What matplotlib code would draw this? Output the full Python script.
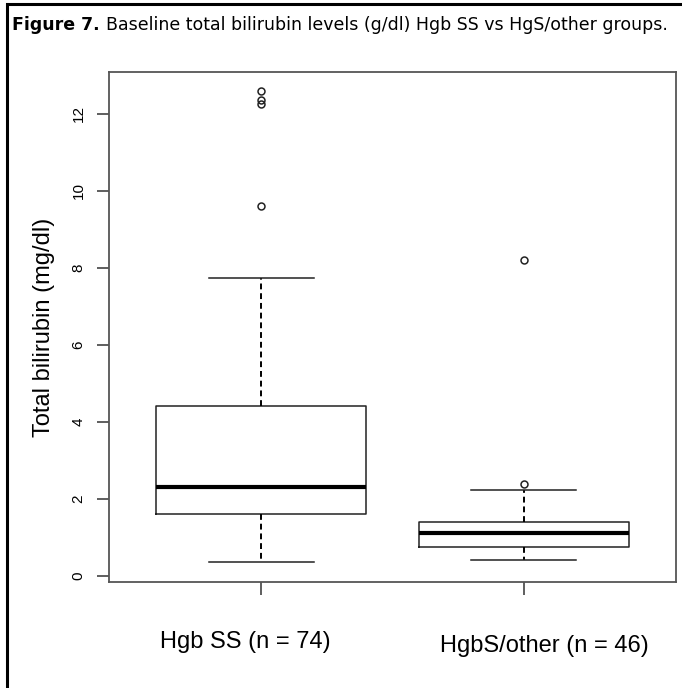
import matplotlib.pyplot as plt
from matplotlib.patches import Rectangle

# boxplot summaries (mg/dl)
groups = ['Hgb SS (n = 74)', 'HgbS/other (n = 46)']
whislo = [0.36, 0.41]
q1 = [1.61, 0.75]
med = [2.32, 1.12]
q3 = [4.40, 1.39]
whishi = [7.73, 2.23]
fliers = [[12.6, 12.35, 12.25, 9.6], [8.2, 2.38]]

stats = []
for i in range(len(groups)):
    stats.append({'whislo': whislo[i], 'q1': q1[i], 'med': med[i], 'q3': q3[i],
                  'whishi': whishi[i], 'fliers': fliers[i], 'label': groups[i]})

fig = plt.figure(figsize=(6.82, 6.88), dpi=100)
ax = fig.add_axes([109 / 682, (688 - 582) / 688, (676 - 109) / 682, (582 - 72) / 688])

ax.bxp(stats, positions=[1, 2], widths=0.8, patch_artist=False,
       boxprops=dict(color='#222222', linewidth=1.1),
       medianprops=dict(color='black', linewidth=3),
       whiskerprops=dict(color='black', linewidth=1.4, linestyle=(0, (3, 2))),
       capprops=dict(color='#222222', linewidth=1.1),
       flierprops=dict(marker='o', markersize=5, markerfacecolor='none',
                       markeredgecolor='#222222', markeredgewidth=1.1),
       capwidths=0.4)

ax.set_xlim(0.42, 2.58)
ax.set_ylim(-0.16, 13.09)
ax.set_yticks([0, 2, 4, 6, 8, 10, 12])
ax.set_yticklabels(['0', '2', '4', '6', '8', '10', '12'], rotation=90, va='center',
                   fontsize=11, family='Liberation Sans')
ax.set_xticks([1, 2])
ax.set_xticklabels(['', ''])
ax.tick_params(axis='both', length=9, width=1.1, color='#333333', pad=8)
for s in ax.spines.values():
    s.set_color('#555555')
    s.set_linewidth(1.3)

ax.set_ylabel('Total bilirubin (mg/dl)', fontsize=17, family='Liberation Sans', labelpad=12)

fig.text(245 / 682, 1 - 642 / 688, groups[0], ha='center', va='center',
         fontsize=17, family='Liberation Sans')
fig.text(544 / 682, 1 - 646 / 688, groups[1], ha='center', va='center',
         fontsize=17, family='Liberation Sans')

# title: bold lead-in followed by plain text
t1 = fig.text(12 / 682, 1 - 25 / 688, 'Figure 7.', ha='left', va='center',
              fontsize=12.5, fontweight='bold', family='DejaVu Sans')
r = fig.canvas.get_renderer()
bb = t1.get_window_extent(renderer=r)
fig.text((bb.x1 + 6) / 682, 1 - 25 / 688,
         'Baseline total bilirubin levels (g/dl) Hgb SS vs HgS/other groups.',
         ha='left', va='center', fontsize=12.5, family='DejaVu Sans')

# outer frame of the figure panel
fig.patches.append(Rectangle((7 / 682, -0.01), 0.995, 1 - 4 / 688 + 0.01, transform=fig.transFigure,
                             fill=False, edgecolor='black', linewidth=2.2))

fig.savefig('out.png', dpi=100)
